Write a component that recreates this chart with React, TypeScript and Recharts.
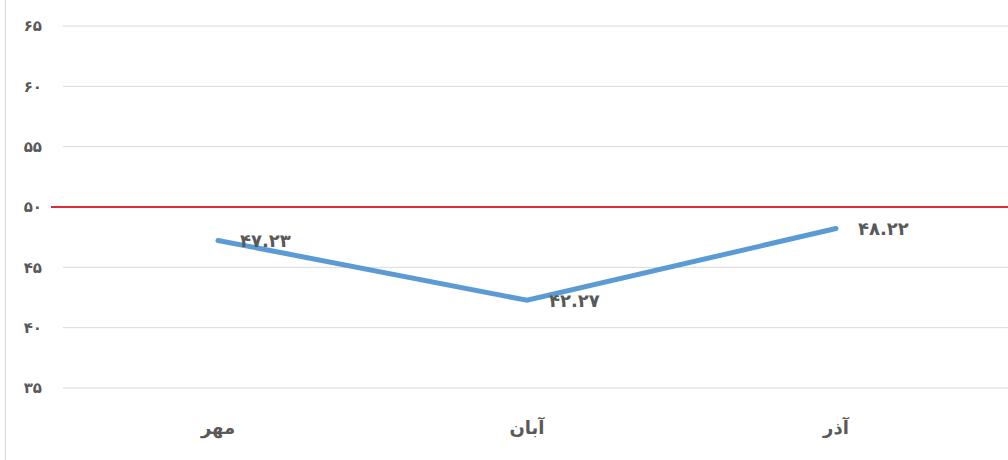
import { CartesianGrid, LabelList, Line, LineChart, ReferenceLine, XAxis, YAxis } from "recharts";

const months = ["مهر", "آبان", "آذر"];
const scores = [47.23, 42.27, 48.22];
const yTicks = [35, 40, 45, 50, 55, 60, 65];
const threshold = 50;

const FONT = "'DejaVu Sans', sans-serif";
const GRAY = "#595959";

const faDigits = (s: string) => s.replace(/[0-9]/g, (d) => "۰۱۲۳۴۵۶۷۸۹"[Number(d)]);

const data = months.map((m, i) => ({ month: m, score: scores[i] }));

// value label sits to the right of the point, vertically centred
function ValueLabel(props: any) {
  const { x, y, value } = props;
  return (
    <text x={x + 22} y={y} dy="0.35em" fill={GRAY} fontSize={18} fontWeight="bold" fontFamily={FONT}>
      {faDigits(Number(value).toFixed(2))}
    </text>
  );
}

function ThresholdLine(props: any) {
  const { x1, y1, x2, y2 } = props;
  return <line x1={x1 - 12} y1={y1} x2={x2} y2={y2} stroke="#e02b35" strokeWidth={2} />;
}

export default function App() {
  return (
    <div style={{ position: "fixed", left: 0, top: 0, width: 1008, height: 460, background: "#fff" }}>
      <div style={{ position: "absolute", left: 5, top: 0, width: 1, height: 460, background: "#d9d9d9" }} />
      <LineChart width={1008} height={460} data={data} margin={{ top: 26, right: 0, bottom: 0, left: 0 }}>
        <CartesianGrid vertical={false} stroke="#d9d9d9" strokeWidth={1} />
        <XAxis
          dataKey="month"
          height={72}
          axisLine={false}
          tickLine={false}
          tickSize={0}
          tickMargin={33}
          padding={{ left: 155, right: 172 }}
          tick={{ fill: GRAY, fontSize: 18, fontWeight: "bold", fontFamily: FONT }}
        />
        <YAxis
          domain={[35, 65]}
          ticks={yTicks}
          interval={0}
          width={63}
          axisLine={false}
          tickLine={false}
          tickSize={0}
          tickMargin={21}
          tickFormatter={(v: number) => faDigits(String(v))}
          tick={{ fill: GRAY, fontSize: 15, fontWeight: "bold", fontFamily: FONT }}
        />
        <ReferenceLine y={threshold} shape={ThresholdLine} />
        <Line
          dataKey="score"
          stroke="#5b9bd5"
          strokeWidth={5}
          strokeLinecap="round"
          dot={false}
          activeDot={false}
          isAnimationActive={false}
        >
          <LabelList dataKey="score" content={ValueLabel} />
        </Line>
      </LineChart>
    </div>
  );
}
